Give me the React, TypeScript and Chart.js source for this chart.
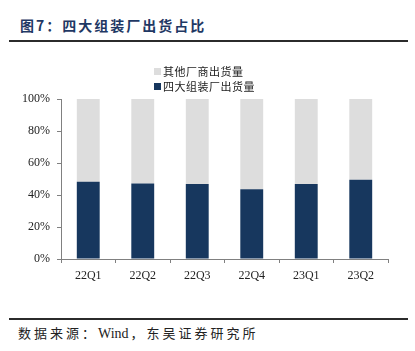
import React, { useEffect, useRef } from "react";
import { Chart, registerables } from "chart.js";

Chart.register(...registerables);

const categories = ["22Q1", "22Q2", "22Q3", "22Q4", "23Q1", "23Q2"];
const fourMajorShare = [48.3, 47.2, 46.8, 43.6, 46.8, 49.5];
const otherShare = [51.7, 52.8, 53.2, 56.4, 53.2, 50.5];
const yTicks = [0, 20, 40, 60, 80, 100];

const titleText = "图7：四大组装厂出货占比";
const sourcePrefix = "数据来源：";
const sourceName = "Wind";
const sourceSuffix = "，东吴证券研究所";
const fourMajorLabel = "四大组装厂出货量";
const otherLabel = "其他厂商出货量";

const NAVY = "#17375E";
const GRAY = "#DDDDDD";
const CJK = '"Noto Sans CJK SC", sans-serif';
const SERIF = '"Liberation Serif", "Times New Roman", serif';

const legendPlugin = {
  id: "stackLegend",
  afterDraw(chart: any) {
    const ctx = chart.ctx;
    const items = [...chart.data.datasets].reverse();
    ctx.save();
    ctx.font = `11px ${CJK}`;
    (ctx as any).letterSpacing = "0.5px";
    ctx.textBaseline = "middle";
    items.forEach((ds: any, i: number) => {
      const cy = 21.5 + i * 15;
      ctx.fillStyle = ds.backgroundColor;
      ctx.fillRect(154, cy - 3.5, 7, 7);
      ctx.fillStyle = "#222";
      ctx.fillText(ds.label, 163, cy + 0.5);
    });
    ctx.restore();
  },
};

export default function App() {
  const canvasRef = useRef<HTMLCanvasElement | null>(null);

  useEffect(() => {
    document.body.style.margin = "0";
    const canvas = canvasRef.current;
    if (!canvas) return;
    const chart = new Chart(canvas, {
      type: "bar",
      data: {
        labels: categories,
        datasets: [
          {
            label: fourMajorLabel,
            data: fourMajorShare,
            backgroundColor: NAVY,
            borderWidth: 0,
            barPercentage: 0.42,
            categoryPercentage: 1,
          },
          {
            label: otherLabel,
            data: otherShare,
            backgroundColor: GRAY,
            borderWidth: 0,
            barPercentage: 0.42,
            categoryPercentage: 1,
          },
        ],
      },
      options: {
        responsive: false,
        animation: false,
        devicePixelRatio: 1,
        layout: { padding: { top: 49, right: 27, left: 0, bottom: 11 } },
        plugins: {
          legend: { display: false },
          tooltip: { enabled: false },
        },
        scales: {
          x: {
            stacked: true,
            offset: true,
            grid: {
              display: true,
              drawOnChartArea: false,
              drawTicks: true,
              tickLength: 4,
              color: "#808080",
              offset: true,
            },
            border: { display: true, color: "#808080", width: 1 },
            ticks: {
              color: "#222",
              font: { family: SERIF, size: 12 },
              padding: 6,
              maxRotation: 0,
            },
            afterFit(scale: any) {
              scale.height = 30;
            },
          },
          y: {
            stacked: true,
            min: 0,
            max: 100,
            afterBuildTicks(scale: any) {
              scale.ticks = yTicks.map((v) => ({ value: v }));
            },
            grid: {
              display: true,
              drawOnChartArea: false,
              drawTicks: true,
              tickLength: 4,
              color: "#808080",
            },
            border: { display: true, color: "#808080", width: 1 },
            ticks: {
              color: "#222",
              font: { family: SERIF, size: 12 },
              padding: 7,
              callback: (v: any) => `${v}%`,
            },
            afterFit(scale: any) {
              scale.width = 61;
            },
          },
        },
      },
      plugins: [legendPlugin],
    });
    return () => chart.destroy();
  }, []);

  return (
    <div
      style={{
        position: "relative",
        width: 415,
        height: 351,
        background: "#fff",
        overflow: "hidden",
      }}
    >
      <div
        style={{
          position: "absolute",
          left: 20,
          top: 16,
          fontFamily: CJK,
          fontWeight: 700,
          fontSize: 14,
          letterSpacing: "2px",
          color: "#1F3864",
          lineHeight: "18px",
          whiteSpace: "nowrap",
        }}
      >
        {titleText}
      </div>
      <div
        style={{
          position: "absolute",
          left: 9,
          top: 40,
          width: 399,
          height: 2,
          background: "#2b2b2b",
        }}
      />
      <div style={{ position: "absolute", left: 0, top: 50, width: 415, height: 250 }}>
        <canvas ref={canvasRef} width={415} height={250} style={{ width: 415, height: 250 }} />
      </div>
      <div
        style={{
          position: "absolute",
          left: 9,
          top: 318,
          width: 399,
          height: 2,
          background: "#2b2b2b",
        }}
      />
      <div
        style={{
          position: "absolute",
          left: 18,
          top: 324,
          fontFamily: CJK,
          fontSize: 13,
          letterSpacing: "3px",
          color: "#222",
          lineHeight: "18px",
          whiteSpace: "nowrap",
        }}
      >
        {sourcePrefix}
        <span style={{ fontFamily: SERIF, fontSize: 14, letterSpacing: "0px", marginRight: 2 }}>
          {sourceName}
        </span>
        {sourceSuffix}
      </div>
    </div>
  );
}
